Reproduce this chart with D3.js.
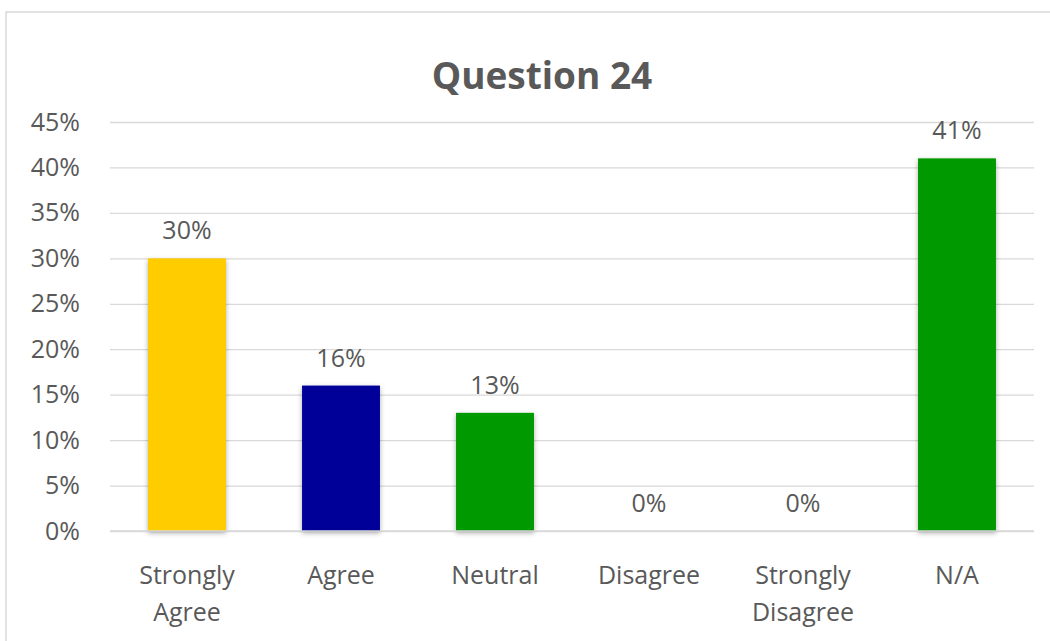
<!DOCTYPE html>
<html>
<head>
<meta charset="utf-8">
<script src="https://cdn.jsdelivr.net/npm/d3@7/dist/d3.min.js"></script>
<style>
  html, body { margin: 0; padding: 0; background: #fff; }
  svg { display: block; }
  text { font-family: "Open Sans", "Noto Sans", sans-serif; fill: #595959; }
</style>
</head>
<body>
<svg id="chart" width="1050" height="641"></svg>
<script>
// Survey responses for question 24
const chartTitle = "Question 24";
const categories = ["Strongly Agree", "Agree", "Neutral", "Disagree", "Strongly Disagree", "N/A"];
const categoryLines = [["Strongly", "Agree"], ["Agree"], ["Neutral"], ["Disagree"], ["Strongly", "Disagree"], ["N/A"]];
const values = [0.30, 0.16, 0.13, 0, 0, 0.41];
const barColors = ["#FFCC00", "#000099", "#009900", "#009900", "#009900", "#009900"];
const yTicks = [0, 0.05, 0.10, 0.15, 0.20, 0.25, 0.30, 0.35, 0.40, 0.45];

const svg = d3.select("#chart");
const fmt = d3.format(".0%");
const labelSize = "25px";

// Drop shadow under the bars
const defs = svg.append("defs");
const shadow = defs.append("filter").attr("id", "barShadow")
  .attr("x", "-20%").attr("y", "-20%").attr("width", "140%").attr("height", "140%");
shadow.append("feDropShadow")
  .attr("dx", 0).attr("dy", 2).attr("stdDeviation", 2.5)
  .attr("flood-color", "#000").attr("flood-opacity", 0.33);

// Chart frame
svg.append("rect")
  .attr("x", 6).attr("y", 12).attr("width", 1100).attr("height", 700)
  .attr("fill", "none").attr("stroke", "#d9d9d9").attr("stroke-width", 1.5);

const x = d3.scaleBand().domain(categories).range([110, 1034])
  .paddingInner(0.494).paddingOuter(0.247);
const y = d3.scaleLinear().domain([0, 0.45]).range([531, 122]);

// Title
svg.append("text")
  .attr("x", 542).attr("y", 89)
  .attr("text-anchor", "middle")
  .style("font-size", "37px").style("font-weight", "bold")
  .text(chartTitle);

// Gridlines and y tick labels
const yAxis = svg.append("g").attr("transform", "translate(110,0)")
  .call(d3.axisLeft(y).tickValues(yTicks).tickFormat(fmt).tickSize(-924).tickPadding(30));
yAxis.select(".domain").remove();
yAxis.selectAll(".tick line").attr("stroke", "#d9d9d9").attr("stroke-width", 1.3);
yAxis.selectAll(".tick text")
  .attr("fill", "#595959")
  .style("font-size", labelSize)
  .style("font-family", "\"Open Sans\", sans-serif");

// Bars
svg.append("g").selectAll("rect")
  .data(values)
  .join("rect")
  .attr("x", (d, i) => x(categories[i]))
  .attr("width", x.bandwidth())
  .attr("y", d => y(d))
  .attr("height", d => y(0) - y(d))
  .attr("fill", (d, i) => barColors[i])
  .attr("filter", d => d > 0 ? "url(#barShadow)" : null);

// Baseline
svg.append("line")
  .attr("x1", 110).attr("x2", 1034)
  .attr("y1", y(0)).attr("y2", y(0))
  .attr("stroke", "#d9d9d9").attr("stroke-width", 1.5);

// Value labels
svg.append("g").selectAll("text")
  .data(values)
  .join("text")
  .attr("x", (d, i) => x(categories[i]) + x.bandwidth() / 2)
  .attr("y", d => y(d) - 19)
  .attr("text-anchor", "middle")
  .style("font-size", labelSize)
  .text(d => fmt(d));

// Category labels
const catG = svg.append("g").selectAll("text")
  .data(categoryLines)
  .join("text")
  .attr("x", (d, i) => x(categories[i]) + x.bandwidth() / 2)
  .attr("y", 584)
  .attr("text-anchor", "middle")
  .style("font-size", labelSize);
catG.selectAll("tspan")
  .data(d => d)
  .join("tspan")
  .attr("x", function () { return d3.select(this.parentNode).attr("x"); })
  .attr("dy", (d, i) => i === 0 ? 0 : 37)
  .text(d => d);
</script>
</body>
</html>
